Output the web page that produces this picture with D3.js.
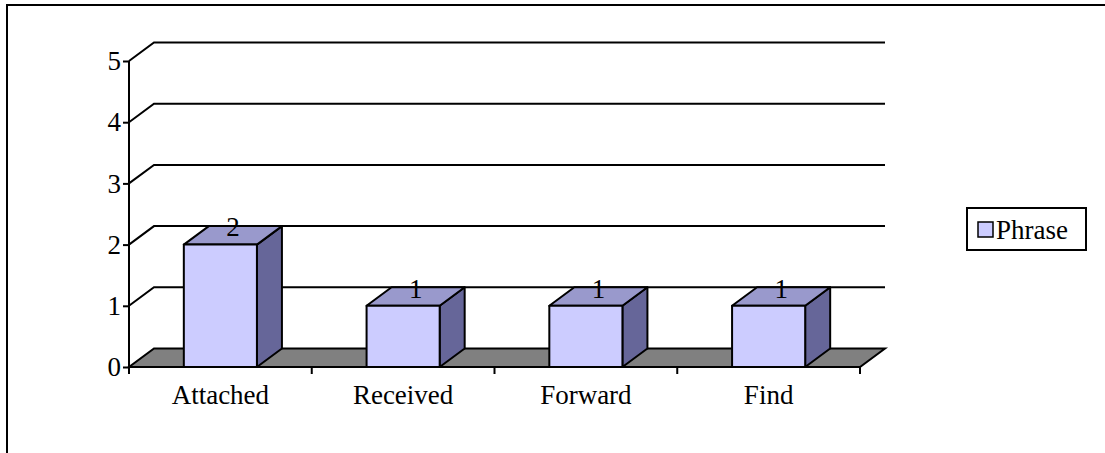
<!DOCTYPE html>
<html>
<head>
<meta charset="utf-8">
<script src="https://cdn.jsdelivr.net/npm/d3@7"></script>
<style>
  html, body { margin: 0; padding: 0; background: #fff; }
  svg { display: block; font-family: "Liberation Serif", "Times New Roman", serif; }
</style>
</head>
<body>
<svg id="chart" width="1105" height="453"></svg>
<script>
// Phrase counts per keyword
const categories = ["Attached", "Received", "Forward", "Find"];
const phraseValues = [2, 1, 1, 1];
const yTicks = [0, 1, 2, 3, 4, 5];
const seriesName = "Phrase";

const fontSize = 27;
const svg = d3.select("#chart");

// outer frame
svg.append("rect")
  .attr("x", 7).attr("y", 5)
  .attr("width", 1120).attr("height", 470)
  .attr("fill", "none").attr("stroke", "#000").attr("stroke-width", 2);

const plotLeft = 129, plotRight = 860, plotBottom = 367, plotTop = 61;
const depthX = 25, depthY = 18.5;

const x = d3.scaleBand().domain(categories).range([plotLeft, plotRight])
  .paddingInner(0.6).paddingOuter(0.3);
const y = d3.scaleLinear().domain([0, 5]).range([plotBottom, plotTop]);

// grey floor
const floorPts = [[plotLeft, plotBottom], [plotRight, plotBottom],
  [plotRight + depthX, plotBottom - depthY], [plotLeft + depthX, plotBottom - depthY]];
svg.append("polygon")
  .attr("points", floorPts.map(p => p.join(",")).join(" "))
  .attr("fill", "#808080").attr("stroke", "#000").attr("stroke-width", 2);

// back-wall gridlines with their side diagonals
const grid = svg.append("g").attr("fill", "none").attr("stroke", "#000").attr("stroke-width", 2);
yTicks.filter(d => d > 0).forEach(d => {
  const yy = y(d);
  grid.append("polyline")
    .attr("points", `${plotLeft},${yy} ${plotLeft + depthX},${yy - depthY} ${plotRight + depthX},${yy - depthY}`);
});

// 3D bars
const bars = svg.append("g").attr("stroke", "#000").attr("stroke-width", 2).attr("stroke-linejoin", "round");
categories.forEach((c, i) => {
  const x0 = x(c), x1 = x(c) + x.bandwidth();
  const yt = y(phraseValues[i]), yb = y(0);
  const g = bars.append("g");
  // side face
  g.append("polygon")
    .attr("points", `${x1},${yb} ${x1 + depthX},${yb - depthY} ${x1 + depthX},${yt - depthY} ${x1},${yt}`)
    .attr("fill", "#666699");
  // top face
  g.append("polygon")
    .attr("points", `${x0},${yt} ${x1},${yt} ${x1 + depthX},${yt - depthY} ${x0 + depthX},${yt - depthY}`)
    .attr("fill", "#9999CC");
  // front face
  g.append("rect")
    .attr("x", x0).attr("y", yt)
    .attr("width", x1 - x0).attr("height", yb - yt)
    .attr("fill", "#CCCCFF");
});

// value labels
svg.append("g").selectAll("text").data(categories).join("text")
  .attr("x", (c) => x(c) + x.bandwidth() / 2 + depthX / 2)
  .attr("y", (c, i) => y(phraseValues[i]) - depthY / 2 + 1)
  .attr("text-anchor", "middle")
  .attr("font-size", fontSize)
  .text((c, i) => phraseValues[i]);

// y axis
const yAxis = svg.append("g").attr("transform", `translate(${plotLeft},0)`)
  .call(d3.axisLeft(y).tickValues(yTicks).tickSize(6).tickPadding(2).tickFormat(d3.format("d")));
yAxis.select(".domain").remove();
yAxis.selectAll(".tick line").attr("stroke", "#000").attr("stroke-width", 2);
yAxis.selectAll(".tick text").attr("font-size", fontSize)
  .attr("font-family", "Liberation Serif, Times New Roman, serif").attr("fill", "#000")
  .attr("dy", "0.32em");
svg.append("line")
  .attr("x1", plotLeft).attr("x2", plotLeft).attr("y1", plotTop).attr("y2", plotBottom + 7)
  .attr("stroke", "#000").attr("stroke-width", 2);

// x axis: category boundary ticks + labels
const bounds = d3.range(categories.length + 1).map(i => plotLeft + i * x.step());
svg.append("g").selectAll("line").data(bounds.slice(1)).join("line")
  .attr("x1", d => d).attr("x2", d => d)
  .attr("y1", plotBottom).attr("y2", plotBottom + 7)
  .attr("stroke", "#000").attr("stroke-width", 2);
svg.append("line")
  .attr("x1", plotLeft).attr("x2", plotRight).attr("y1", plotBottom).attr("y2", plotBottom)
  .attr("stroke", "#000").attr("stroke-width", 2);
svg.append("g").selectAll("text").data(categories).join("text")
  .attr("x", c => x(c) + x.bandwidth() / 2)
  .attr("y", plotBottom + 37)
  .attr("text-anchor", "middle")
  .attr("font-size", fontSize)
  .text(c => c);

// legend
const legend = svg.append("g");
legend.append("rect")
  .attr("x", 967).attr("y", 208).attr("width", 119).attr("height", 42)
  .attr("fill", "#fff").attr("stroke", "#000").attr("stroke-width", 2);
legend.append("rect")
  .attr("x", 978).attr("y", 222).attr("width", 15).attr("height", 15)
  .attr("fill", "#CCCCFF").attr("stroke", "#000").attr("stroke-width", 1.5);
legend.append("text")
  .attr("x", 996).attr("y", 239)
  .attr("font-size", fontSize)
  .text(seriesName);
</script>
</body>
</html>
